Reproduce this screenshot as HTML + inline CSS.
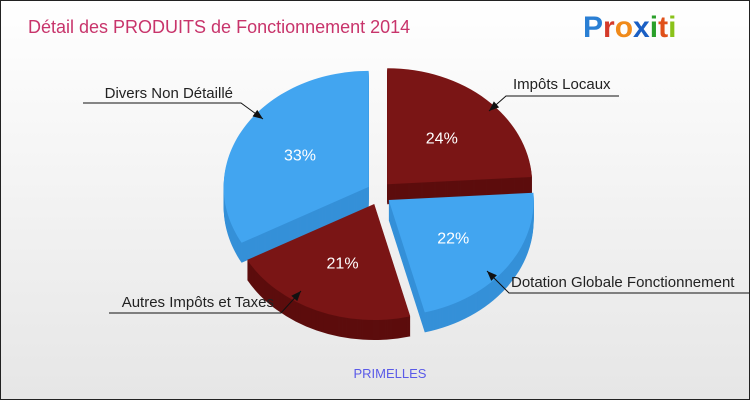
<!DOCTYPE html>
<html><head><meta charset="utf-8"><style>
body{margin:0;width:750px;height:400px;overflow:hidden;font-family:"Liberation Sans",sans-serif}
#frame{position:absolute;left:0;top:0;width:748px;height:398px;border:1px solid #222;background:linear-gradient(#ffffff,#e6e6e6)}
</style></head><body>
<div id="frame">
<svg width="748" height="398" id="svg">
<text x="27" y="32" font-size="18" fill="#c8346b">Détail des PRODUITS de Fonctionnement 2014</text>
<g font-size="30" font-weight="bold" font-family="Liberation Sans, sans-serif">
<text x="582" y="36"><tspan fill="#2a7fd4">P</tspan><tspan fill="#d43a2a">r</tspan><tspan fill="#f08a1a">o</tspan><tspan fill="#1a5fc4">x</tspan><tspan fill="#2aa02a">i</tspan><tspan fill="#e0501a">t</tspan><tspan fill="#8ac21a">i</tspan></text></g>
<g id="pie"></g>
<g id="labels"></g>
<text x="389" y="377" font-size="13" fill="#5a5ae8" text-anchor="middle">PRIMELLES</text>
</svg></div>
<script>
const categories=["Impôts Locaux","Dotation Globale Fonctionnement","Autres Impôts et Taxes","Divers Non Détaillé"];
const values=[24,22,21,33];
const tops=["#7a1515","#42a5f0","#7a1515","#42a5f0"];
const sides=["#5c0d0d","#3590d8","#5c0d0d","#3590d8"];
const NS="http://www.w3.org/2000/svg";
const cx=378,cy=192,rx=145,ry=116,depth=20,expl=12;
const total=values.reduce((a,b)=>a+b,0);
function pt(a,ox,oy){return [ox+rx*Math.sin(a),oy-ry*Math.cos(a)];}
function path(a0,a1,ox,oy){
 const p0=pt(a0,ox,oy),p1=pt(a1,ox,oy);const large=(a1-a0)>Math.PI?1:0;
 return `M${ox},${oy}L${p0[0]},${p0[1]}A${rx},${ry} 0 ${large} 1 ${p1[0]},${p1[1]}Z`;}
const pie=document.getElementById('pie');
let acc=0;const slices=[];
values.forEach((v,i)=>{const a0=acc/total*2*Math.PI;acc+=v;const a1=acc/total*2*Math.PI;const m=(a0+a1)/2;
 slices.push({i,a0,a1,m,ox:cx+expl*Math.sin(m),oy:cy-expl*Math.cos(m)});});
const order=[0,3,1,2];
order.forEach(k=>{const s=slices[k];
 const g=document.createElementNS(NS,'g');
 
 
 for(let d=depth;d>0;d--){const p=document.createElementNS(NS,'path');p.setAttribute('d',path(s.a0,s.a1,s.ox,s.oy+d));p.setAttribute('fill',sides[s.i]);g.appendChild(p);}
 const p=document.createElementNS(NS,'path');p.setAttribute('d',path(s.a0,s.a1,s.ox,s.oy));p.setAttribute('fill',tops[s.i]);g.appendChild(p);
 const lp=pt(s.m,s.ox,s.oy);const t=document.createElementNS(NS,'text');
 t.setAttribute('x',s.ox+(lp[0]-s.ox)*0.55);t.setAttribute('y',s.oy+(lp[1]-s.oy)*0.55+6);
 t.setAttribute('fill','#ffffff');t.setAttribute('font-size','16');t.setAttribute('text-anchor','middle');
 t.textContent=values[s.i]+'%';g.appendChild(t);pie.appendChild(g);});
const labels=document.getElementById('labels');
const lab=[[512,88,"start",[618,95,505,95,488,110]],[510,286,"start",[748,292,508,292,486,270]],[273,306,"end",[108,312,280,312,300,290]],[232,97,"end",[82,102,240,102,262,118]]];
lab.forEach((l,i)=>{const g=document.createElementNS(NS,'g');
 
 
 const c=l[3];const pl=document.createElementNS(NS,'polyline');
 pl.setAttribute('points',`${c[0]},${c[1]} ${c[2]},${c[3]} ${c[4]},${c[5]}`);pl.setAttribute('fill','none');pl.setAttribute('stroke','#111');g.appendChild(pl);
 const ang=Math.atan2(c[5]-c[3],c[4]-c[2]);const L=10,W=4;
 const ah=document.createElementNS(NS,'polygon');
 const bx=c[4]-L*Math.cos(ang),by=c[5]-L*Math.sin(ang);
 ah.setAttribute('points',`${c[4]},${c[5]} ${bx-W*Math.sin(ang)},${by+W*Math.cos(ang)} ${bx+W*Math.sin(ang)},${by-W*Math.cos(ang)}`);ah.setAttribute('fill','#111');g.appendChild(ah);
 const t=document.createElementNS(NS,'text');t.setAttribute('x',l[0]);t.setAttribute('y',l[1]);t.setAttribute('text-anchor',l[2]);
 t.setAttribute('font-size','15');t.setAttribute('fill','#222');t.textContent=categories[i];g.appendChild(t);labels.appendChild(g);});
</script>
</body></html>
